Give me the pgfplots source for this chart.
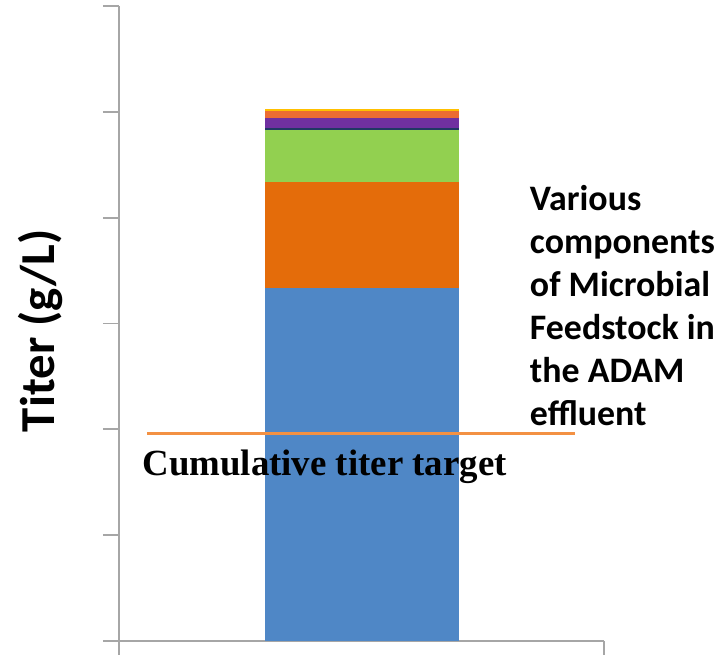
\documentclass[border=0pt]{standalone}
\usepackage{pgfplots}
\pgfplotsset{compat=1.18}
\usepackage{fontspec}
\setmainfont{Liberation Serif}
\newfontfamily\calibri{Carlito}

\definecolor{cblue}{HTML}{4F87C6}
\definecolor{corange}{HTML}{E46C0A}
\definecolor{cgreen}{HTML}{92D050}
\definecolor{cnavy}{HTML}{203864}
\definecolor{cpurple}{HTML}{7030A0}
\definecolor{corangetop}{HTML}{EC6C32}
\definecolor{cyellow}{HTML}{FFC000}
\definecolor{targetorange}{HTML}{F39143}
\definecolor{axgray}{HTML}{A6A6A6}

\begin{document}
\begin{tikzpicture}
\useasboundingbox (0bp,0bp) rectangle (726bp,655bp);

% stacked composition of the feedstock titer
\begin{axis}[
  at={(119bp,14bp)}, anchor=south west,
  width=485bp, height=635bp, scale only axis,
  xmin=0, xmax=1, ymin=0, ymax=6,
  axis x line*=bottom, axis y line*=left,
  xtick={0,1}, xticklabels={},
  ytick={0,1,2,3,4,5,6}, yticklabels={},
  tick align=outside, major tick length=16bp,
  axis line style={draw=axgray, line width=1.8bp},
  tick style={draw=axgray, line width=1.8bp},
  ybar stacked, bar width=194bp,
  clip=false,
]
\addplot[fill=cblue, draw=none] coordinates {(0.5,3.34)};
\addplot[fill=corange, draw=none] coordinates {(0.5,1.00)};
\addplot[fill=cgreen, draw=none] coordinates {(0.5,0.49)};
\addplot[fill=cnavy, draw=none] coordinates {(0.5,0.02)};
\addplot[fill=cpurple, draw=none] coordinates {(0.5,0.095)};
\addplot[fill=corangetop, draw=none] coordinates {(0.5,0.065)};
\addplot[fill=cyellow, draw=none] coordinates {(0.5,0.015)};
\end{axis}

% target line and annotations
\begin{axis}[
  at={(119bp,14bp)}, anchor=south west,
  width=485bp, height=635bp, scale only axis,
  xmin=0, xmax=1, ymin=0, ymax=6,
  hide axis, clip=false,
]
\addplot[draw=targetorange, line width=3bp] coordinates {(0.058,1.96) (0.940,1.96)};
\node[anchor=base, inner sep=0pt, font={\fontsize{37}{40}\selectfont\bfseries}]
  at (axis cs:0.424,1.56) {Cumulative titer target};
\node[anchor=north west, inner sep=0pt, align=left,
      font={\calibri\bfseries\fontsize{36}{43.3}\selectfont}]
  at (axis cs:0.847,4.31) {Various\\components\\of Microbial\\Feedstock in\\the ADAM\\effluent};
\node[rotate=90, anchor=base, inner sep=0pt,
      font={\calibri\bfseries\fontsize{49}{52}\selectfont}]
  at (axis cs:-0.132,2.93) {Titer (g/L)};
\end{axis}
\end{tikzpicture}
\end{document}
